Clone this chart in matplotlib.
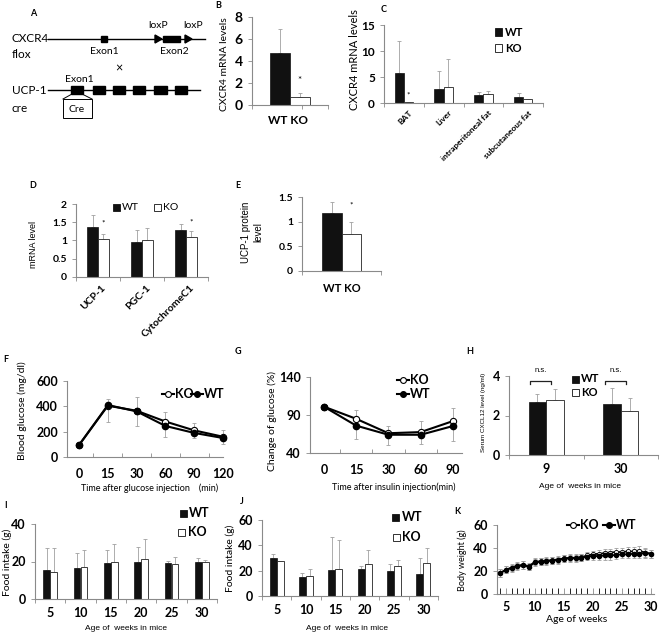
import numpy as np
import matplotlib
matplotlib.use('Agg')
import matplotlib.pyplot as plt
from matplotlib.patches import Rectangle, Polygon
from matplotlib.lines import Line2D

# ---------------- data ----------------
b_groups = ['WT', 'KO']
b_wt, b_wt_err = 4.7, 2.2
b_ko, b_ko_err = 0.7, 0.35

c_tissues = ['BAT', 'Liver', 'intraperitoneal fat', 'subcutaneous fat']
c_wt = [5.7, 2.7, 1.5, 1.2]
c_wt_err = [6.2, 3.5, 0.6, 0.7]
c_ko = [0.2, 3.1, 1.8, 0.8]
c_ko_err = [0.0, 5.4, 0.6, 0.05]

d_genes = ['UCP-1', 'PGC-1', 'CytochromeC1']
d_wt = [1.38, 0.97, 1.28]
d_wt_err = [0.33, 0.32, 0.17]
d_ko = [1.05, 1.00, 1.10]
d_ko_err = [0.13, 0.35, 0.17]

e_wt, e_wt_err = 1.17, 0.23
e_ko, e_ko_err = 0.75, 0.25

f_times = ['0', '15', '30', '60', '90', '120']
f_ko = [95, 405, 365, 280, 210, 160]
f_wt = [95, 410, 360, 245, 190, 150]
f_ko_err = [12, 55, 110, 75, 55, 55]
f_wt_err = [12, 130, 115, 85, 40, 50]

g_times = ['0', '15', '30', '60', '90']
g_ko = [101, 85, 66, 67.5, 82]
g_wt = [101, 76, 64, 64, 75.5]
g_ko_err = [0, 11.6, 9.5, 14.5, 17.6]
g_wt_err = [0, 18, 14, 12.6, 19.7]

h_ages = ['9', '30']
h_wt = [2.7, 2.56]
h_wt_err = [0.38, 0.83]
h_ko = [2.81, 2.22]
h_ko_err = [0.51, 0.68]

i_ages = ['5', '10', '15', '20', '25', '30']
i_wt = [15.5, 16.3, 19.0, 19.9, 19.0, 19.9]
i_wt_err = [11.5, 8.0, 7.4, 8.0, 1.4, 1.8]
i_ko = [14.6, 17.2, 19.9, 21.1, 18.6, 19.5]
i_ko_err = [12.4, 8.9, 9.4, 10.7, 3.6, 1.3]

j_ages = ['5', '10', '15', '20', '25', '30']
j_wt = [30.0, 15.2, 20.5, 21.3, 19.5, 17.3]
j_wt_err = [3.3, 2.7, 26.2, 2.7, 5.8, 12.7]
j_ko = [27.5, 16.0, 21.3, 25.3, 24.0, 26.0]
j_ko_err = [0.0, 5.3, 22.7, 10.7, 4.8, 11.8]

k_weeks = list(range(4, 31))
k_wt = [18, 21, 22.5, 24, 25, 23.5, 27.5, 28, 28.5, 29, 29.5, 30.5, 31, 31,
        31.5, 32.5, 33, 33, 33.5, 33.5, 34, 34.5, 34.5, 35, 35, 35.5, 35]
k_ko = [18, 21, 23, 24.5, 25.5, 24, 28, 28.5, 29, 29.5, 30, 31, 31.5, 31.5,
        32, 33.5, 34.5, 35, 35.5, 36, 36.5, 36.5, 37, 37, 37.5, 36, 35]
k_err = [3.5, 3, 3, 3, 3.5, 3, 3, 3, 3, 3, 3, 3, 3, 3,
         3, 3, 3, 3, 3.5, 3.5, 3.5, 3.5, 3.5, 4, 4, 4, 3.5]

# ---------------- setup ----------------
W, H = 660, 634
fig = plt.figure(figsize=(6.6, 6.34), dpi=100)
plt.rcParams['font.family'] = ['Lato', 'DejaVu Sans']
ARIAL = ['Liberation Sans', 'DejaVu Sans']
GRAY = '#8a8a8a'
ECOL = '#a0a0a0'


def add_ax(l, t, r, b):
    return fig.add_axes([l / W, 1 - b / H, (r - l) / W, (b - t) / H])


def ftext(x, y, s, **kw):
    kw.setdefault('ha', 'center')
    kw.setdefault('va', 'center')
    fig.text(x / W, 1 - y / H, s, **kw)


def fsquare(x, y, size, filled):
    fig.add_artist(Rectangle((x / W, 1 - (y + size / 2) / H), size / W, size / H,
                             transform=fig.transFigure,
                             facecolor='#111' if filled else 'white',
                             edgecolor='#111', lw=0.6))


def fline_leg(x, y, filled, length=12):
    fig.add_artist(Line2D([x / W, (x + length) / W], [1 - y / H] * 2,
                          transform=fig.transFigure, color='black', lw=1.5))
    fig.add_artist(Line2D([(x + length / 2) / W], [1 - y / H],
                          transform=fig.transFigure, marker='o', ms=4.2,
                          mfc='black' if filled else 'white', mec='black', mew=0.8))


def style(ax, ytick_size=8.5):
    for s in ['top', 'right']:
        ax.spines[s].set_visible(False)
    for s in ['left', 'bottom']:
        ax.spines[s].set_color(GRAY)
        ax.spines[s].set_linewidth(0.8)
    ax.tick_params(axis='both', colors=GRAY, labelcolor='black', length=3,
                   width=0.6)
    ax.tick_params(axis='y', labelsize=ytick_size)
    for lab in ax.get_yticklabels():
        lab.set_fontweight('bold')


def bars(ax, wt, wt_err, ko, ko_err, w):
    x = np.arange(len(wt))
    z = np.zeros(len(wt))
    ax.errorbar(x - w / 2, wt, yerr=[z, wt_err], fmt='none', ecolor=ECOL,
                elinewidth=0.6, capsize=1.5, capthick=0.6, zorder=1)
    ax.errorbar(x + w / 2, ko, yerr=[z, ko_err], fmt='none', ecolor=ECOL,
                elinewidth=0.6, capsize=1.5, capthick=0.6, zorder=1)
    ax.bar(x - w / 2, wt, w, color='#111', edgecolor='#111', lw=0.5, zorder=2)
    ax.bar(x + w / 2, ko, w, color='white', edgecolor='#222', lw=0.6, zorder=2)


def cat_axis(ax, n, labels=None, size=8.5, pad=4, direction='out'):
    ax.set_xlim(-0.5, n - 0.5)
    ax.set_xticks(np.arange(n + 1) - 0.5)
    ax.set_xticklabels([])
    ax.tick_params(axis='x', direction=direction)
    if labels is not None:
        ax.set_xticks(np.arange(n), minor=True)
        ax.set_xticklabels(labels, minor=True, fontsize=size, fontweight='bold')
        ax.tick_params(axis='x', which='minor', length=0, pad=pad)


# ---------------- Panel A ----------------
axA = add_ax(0, 0, 215, 135)
axA.set_xlim(0, 215)
axA.set_ylim(135, 0)
axA.axis('off')
ftext(33, 13, 'A', fontsize=6.5, fontweight='bold')
ftext(12, 39, 'CXCR4', fontsize=8.5, ha='left')
ftext(12, 54, 'flox', fontsize=8.5, ha='left')
axA.plot([48, 205], [39, 39], color='black', lw=1.0)
axA.add_patch(Rectangle((101, 36), 6, 6, color='black'))
axA.add_patch(Polygon([[155, 35], [155, 43], [162, 39]], color='black'))
axA.add_patch(Rectangle((163, 36), 17, 6, color='black'))
axA.add_patch(Polygon([[185, 35], [185, 43], [192, 39]], color='black'))
ftext(104, 52, 'Exon1', fontsize=7.5)
ftext(174, 52, 'Exon2', fontsize=7.5)
ftext(158, 25, 'loxP', fontsize=7.5)
ftext(193, 25, 'loxP', fontsize=7.5)
ftext(119, 68, '×', fontsize=9)
ftext(79, 79, 'Exon1', fontsize=7.5)
ftext(12, 90, 'UCP-1', fontsize=8.5, ha='left')
ftext(12, 108, 'cre', fontsize=8.5, ha='left')
axA.plot([48, 200], [90, 90], color='black', lw=1.0)
for x0, x1 in [(71, 83), (93, 105), (113, 125), (133, 145), (154, 167), (175, 187)]:
    axA.add_patch(Rectangle((x0, 86), x1 - x0, 8, color='black'))
axA.plot([72, 63], [94, 99], color='black', lw=0.7)
axA.plot([82, 92], [94, 99], color='black', lw=0.7)
axA.add_patch(Rectangle((63, 99), 29, 19, facecolor='white', edgecolor='black', lw=0.7))
ftext(77, 109, 'Cre', fontsize=7.5)

# ---------------- Panel B ----------------
axB = add_ax(252, 17, 328, 105)
w = 0.26
axB.errorbar([-w / 2], [b_wt], yerr=[[0], [b_wt_err]], fmt='none', ecolor=ECOL,
             elinewidth=0.6, capsize=1.5, capthick=0.6)
axB.errorbar([w / 2], [b_ko], yerr=[[0], [b_ko_err]], fmt='none', ecolor=ECOL,
             elinewidth=0.6, capsize=1.5, capthick=0.6)
axB.bar([-w / 2], [b_wt], w, color='#111', edgecolor='#111', lw=0.5, zorder=2)
axB.bar([w / 2], [b_ko], w, color='white', edgecolor='#222', lw=0.6, zorder=2)
axB.set_xlim(-0.5, 0.5)
axB.set_xticks([-0.5, 0.16, 0.5])
axB.set_xticklabels([])
axB.set_ylim(0, 8)
axB.set_yticks([0, 2, 4, 6, 8])
style(axB, 10)
axB.text(w / 2, 2.2, '*', ha='center', va='center', fontsize=7)
ftext(288, 120, ' '.join(b_groups), fontsize=8.5, fontweight='bold')
ftext(225, 64, 'CXCR4 mRNA levels', fontsize=7.5, rotation=90)
ftext(218, 5, 'B', fontsize=6.5, fontweight='bold')

# ---------------- Panel C ----------------
axC = add_ax(384, 25, 543, 103)
bars(axC, c_wt, c_wt_err, c_ko, c_ko_err, 0.23)
cat_axis(axC, 4)
axC.set_ylim(0, 15)
axC.set_yticks([0, 5, 10, 15])
style(axC, 8.5)
for i, lab in enumerate(c_tissues):
    axC.text(i + 0.12, -1.2, lab, rotation=45, ha='right', va='top',
             rotation_mode='anchor', fontsize=6, fontweight='bold')
axC.text(0.115, 1.5, '*', ha='center', va='center', fontsize=6)
ftext(354, 60, 'CXCR4 mRNA levels', fontsize=8, rotation=90)
ftext(384, 10, 'C', fontsize=6.5, fontweight='bold')
fsquare(495, 32, 7, True)
ftext(505, 32, 'WT', fontsize=8, fontweight='bold', ha='left')
fsquare(495, 48, 7, False)
ftext(505, 48, 'KO', fontsize=8, fontweight='bold', ha='left')

# ---------------- Panel D ----------------
axD = add_ax(76, 204, 208, 277)
bars(axD, d_wt, d_wt_err, d_ko, d_ko_err, 0.24)
cat_axis(axD, 3)
axD.set_ylim(0, 2)
axD.set_yticks([0, 0.5, 1, 1.5, 2])
axD.set_yticklabels(['0', '0.5', '1', '1.5', '2'])
style(axD, 7.5)
for i, lab in enumerate(d_genes):
    axD.text(i + 0.08, -0.18, lab, rotation=45, ha='right', va='top',
             rotation_mode='anchor', fontsize=7.5, fontweight='bold')
axD.text(0.12, 1.48, '*', ha='center', va='center', fontsize=6)
axD.text(2.12, 1.5, '*', ha='center', va='center', fontsize=6)
fsquare(113, 208, 7, True)
ftext(122, 208, 'WT', fontsize=7.5, ha='left')
fsquare(154, 208, 7, False)
ftext(163, 208, 'KO', fontsize=7.5, ha='left')
ftext(34, 244, 'mRNA level', fontsize=6.5, rotation=90, family=ARIAL)
ftext(33, 186, 'D', fontsize=6.5, fontweight='bold')

# ---------------- Panel E ----------------
axE = add_ax(302, 197, 381, 271)
w = 0.25
axE.errorbar([-w / 2], [e_wt], yerr=[[0], [e_wt_err]], fmt='none', ecolor=ECOL,
             elinewidth=0.6, capsize=1.5, capthick=0.6)
axE.errorbar([w / 2], [e_ko], yerr=[[0], [e_ko_err]], fmt='none', ecolor=ECOL,
             elinewidth=0.6, capsize=1.5, capthick=0.6)
axE.bar([-w / 2], [e_wt], w, color='#111', edgecolor='#111', lw=0.5, zorder=2)
axE.bar([w / 2], [e_ko], w, color='white', edgecolor='#222', lw=0.6, zorder=2)
axE.set_xlim(-0.5, 0.5)
axE.set_xticks([-0.5, 0.5])
axE.set_xticklabels([])
axE.set_ylim(0, 1.5)
axE.set_yticks([0, 0.5, 1, 1.5])
axE.set_yticklabels(['0', '0.5', '1', '1.5'])
style(axE, 7.5)
axE.text(w / 2, 1.34, '*', ha='center', va='center', fontsize=6)
ftext(342, 288, 'WT KO', fontsize=8, fontweight='bold')
ftext(252, 232, 'UCP-1 protein\nlevel', fontsize=7, rotation=90,
      family=ARIAL, linespacing=1.3)
ftext(238, 186, 'E', fontsize=6.5, fontweight='bold')


# ---------------- line panels ----------------
def line_panel(ax, ko, wt, ko_err, wt_err):
    x = np.arange(len(ko))
    z = np.zeros(len(ko))
    ax.errorbar(x, ko, yerr=[z, ko_err], fmt='none', ecolor=ECOL,
                elinewidth=0.6, capsize=1.5, capthick=0.6, clip_on=False)
    ax.errorbar(x, wt, yerr=[wt_err, z], fmt='none', ecolor=ECOL,
                elinewidth=0.6, capsize=1.5, capthick=0.6, clip_on=False)
    ax.plot(x, ko, '-o', color='black', mfc='white', mec='black', ms=4.5,
            mew=0.8, lw=1.5, clip_on=False, zorder=3)
    ax.plot(x, wt, '-o', color='black', mfc='black', mec='black', ms=4.5,
            lw=1.5, clip_on=False, zorder=4)


# Panel F
axF = add_ax(67, 381, 223, 457)
line_panel(axF, f_ko, f_wt, f_ko_err, f_wt_err)
axF.set_xlim(-0.42, 5.0)
axF.set_ylim(0, 600)
axF.set_yticks([0, 200, 400, 600])
axF.set_xticks(np.arange(5) + 0.5)
axF.set_xticklabels([])
axF.set_xticks(np.arange(6), minor=True)
axF.set_xticklabels(f_times, minor=True, fontsize=9, fontweight='bold')
style(axF, 9)
axF.tick_params(axis='x', direction='in')
axF.tick_params(axis='x', which='minor', length=0, pad=8)
ftext(150, 488, 'Time after glucose injection    (min)', fontsize=6.5)
ftext(22, 411, 'Blood glucose (mg/dl)', fontsize=7.5, rotation=90)
fline_leg(162, 394, False)
ftext(175, 394, 'KO', fontsize=9, fontweight='bold', ha='left')
fline_leg(191, 394, True)
ftext(204, 394, 'WT', fontsize=9, fontweight='bold', ha='left')
ftext(6, 359, 'F', fontsize=6.5, fontweight='bold')

# Panel G
axG = add_ax(310, 377, 462, 453)
line_panel(axG, g_ko, g_wt, g_ko_err, g_wt_err)
axG.set_xlim(-0.43, 4.28)
axG.set_ylim(40, 140)
axG.set_yticks([40, 90, 140])
axG.set_xticks(np.arange(4) + 0.5)
axG.set_xticklabels([])
axG.set_xticks(np.arange(5), minor=True)
axG.set_xticklabels(g_times, minor=True, fontsize=9, fontweight='bold')
style(axG, 9)
axG.tick_params(axis='x', direction='in')
axG.tick_params(axis='x', which='minor', length=0, pad=8)
ftext(394, 487, 'Time after insulin injection(min)', fontsize=6.5)
ftext(272, 421, 'Change of glucose (%)', fontsize=7.5, rotation=90)
fline_leg(397, 380, False)
ftext(410, 380, 'KO', fontsize=9, fontweight='bold', ha='left')
fline_leg(397, 394, True)
ftext(410, 394, 'WT', fontsize=9, fontweight='bold', ha='left')
ftext(238, 352, 'G', fontsize=6.5, fontweight='bold')

# ---------------- Panel H ----------------
axH = add_ax(509, 376, 658, 455)
hw = 0.235
bars(axH, h_wt, h_wt_err, h_ko, h_ko_err, hw)
cat_axis(axH, 2, h_ages, size=9, pad=6)
axH.set_ylim(0, 4)
axH.set_yticks([0, 2, 4])
style(axH, 9)
for i in range(2):
    x0, x1 = i - hw + 0.02, i + 0.07
    axH.plot([x0, x0, x1, x1], [3.6, 3.75, 3.75, 3.6], color='#222', lw=0.9,
             clip_on=False)
    axH.text((x0 + x1) / 2, 4.3, 'n.s.', ha='center', va='center',
             fontsize=5.5, family=ARIAL, clip_on=False)
fsquare(572, 379, 7, True)
ftext(581, 379, 'WT', fontsize=8, fontweight='bold', ha='left')
fsquare(572, 392, 7, False)
ftext(581, 392, 'KO', fontsize=8, fontweight='bold', ha='left')
ftext(580, 487, 'Age of  weeks in mice', fontsize=6, family=ARIAL)
ftext(483, 412, 'Serum CXCL12 level (ng/ml)', fontsize=4.5, rotation=90,
      family=ARIAL)
ftext(470, 352, 'H', fontsize=6.5, fontweight='bold')

# ---------------- Panel I ----------------
axI = add_ax(35, 524, 217, 599)
bars(axI, i_wt, i_wt_err, i_ko, i_ko_err, 0.23)
cat_axis(axI, 6, i_ages, size=9, pad=6)
axI.set_ylim(0, 40)
axI.set_yticks([0, 20, 40])
style(axI, 9)
fsquare(180, 513, 7, True)
ftext(189, 513, 'WT', fontsize=9, fontweight='bold', ha='left')
fsquare(178, 532, 7, False)
ftext(188, 532, 'KO', fontsize=9, fontweight='bold', ha='left')
ftext(126, 628, 'Age of  weeks in mice', fontsize=6, family=ARIAL)
ftext(7, 562, 'Food intake (g)', fontsize=7.5, rotation=90)
ftext(6, 506, 'I', fontsize=6.5, fontweight='bold')

# ---------------- Panel J ----------------
axJ = add_ax(262, 520, 438, 596)
bars(axJ, j_wt, j_wt_err, j_ko, j_ko_err, 0.24)
cat_axis(axJ, 6, j_ages, size=9, pad=6)
axJ.set_ylim(0, 60)
axJ.set_yticks([0, 20, 40, 60])
style(axJ, 9)
fsquare(392, 517, 7, True)
ftext(402, 517, 'WT', fontsize=9, fontweight='bold', ha='left')
fsquare(393, 537, 7, False)
ftext(402, 537, 'KO', fontsize=9, fontweight='bold', ha='left')
ftext(347, 628, 'Age of  weeks in mice', fontsize=6, family=ARIAL)
ftext(230, 558, 'Food intake (g)', fontsize=7.5, rotation=90)
ftext(242, 502, 'J', fontsize=6.5, fontweight='bold')

# ---------------- Panel K ----------------
axK = add_ax(497, 525, 654, 594)
axK.errorbar(k_weeks, k_ko, yerr=k_err, fmt='none', ecolor=ECOL,
             elinewidth=0.6, capsize=1.2, capthick=0.6)
axK.errorbar(k_weeks, k_wt, yerr=k_err, fmt='none', ecolor=ECOL,
             elinewidth=0.6, capsize=1.2, capthick=0.6)
axK.plot(k_weeks, k_ko, '-o', color='black', mfc='white', mec='black',
         ms=3, mew=0.6, lw=1.3, zorder=3)
axK.plot(k_weeks, k_wt, '-o', color='black', mfc='black', mec='black',
         ms=3, lw=1.3, zorder=4)
axK.set_xlim(3.5, 30.5)
axK.set_ylim(0, 60)
axK.set_yticks([0, 20, 40, 60])
axK.set_xticks([5, 10, 15, 20, 25, 30])
axK.set_xticks(k_weeks, minor=True)
style(axK, 9)
axK.tick_params(axis='x', which='both', direction='in', length=4,
                labelsize=9, pad=5)
for lab in axK.get_xticklabels():
    lab.set_fontweight('bold')
fline_leg(567, 525, False)
ftext(580, 525, 'KO', fontsize=9, fontweight='bold', ha='left')
fline_leg(603, 525, True)
ftext(616, 525, 'WT', fontsize=9, fontweight='bold', ha='left')
ftext(577, 620, 'Age of weeks', fontsize=7.5)
ftext(462, 560, 'Body weight (g)', fontsize=6.5, rotation=90)
ftext(457, 512, 'K', fontsize=6.5, fontweight='bold')

fig.savefig('out.png', dpi=100)
